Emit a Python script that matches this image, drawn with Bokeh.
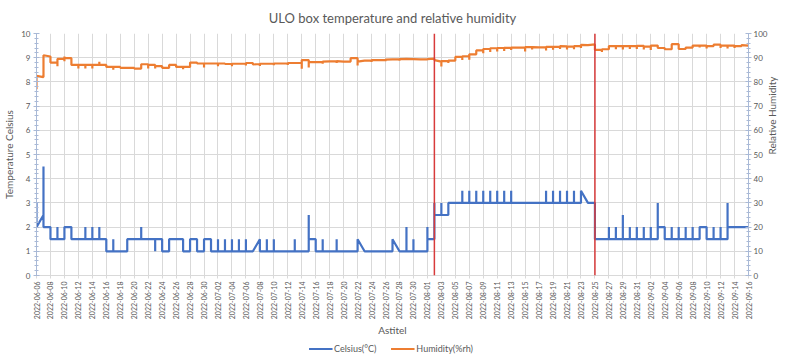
import math
import pandas as pd
from bokeh.plotting import figure
from bokeh.layouts import column
from bokeh.models import Range1d, LinearAxis, FixedTicker, Span, Legend, LegendItem
from bokeh.embed import file_html
from bokeh.resources import INLINE

# ---------------- data ----------------
start_date = "2022-06-06"
end_date = "2022-09-16"
event_dates = ["2022-08-02", "2022-08-25"]

# day offset from start_date and the readings logged on that day (in order)
celsius_day = [0, 1, 2, 3, 4, 5, 7, 8, 9, 10, 11, 13, 15, 17, 18, 19, 21, 22, 23, 24, 25,
               26, 27, 28, 29, 30, 31, 32, 33, 34, 37, 39, 40, 41, 43, 46, 47, 51, 52,
               53, 54, 56, 57, 58, 59, 61, 62, 63, 64, 65, 66, 67, 68,
               73, 74, 75, 76, 77, 78, 79, 80, 82, 83, 84, 85, 86, 87, 88, 89, 90,
               91, 92, 93, 94, 95, 96, 97, 98, 99, 102]
celsius_val = [[3, 2], [2.5, 4.5, 2], [2, 1.5], [1.5, 2, 1.5], [1.5, 2], [2, 1.5],
               [1.5, 2, 1.5], [1.5, 2, 1.5], [1.5, 2, 1.5], [1.5, 1], [1, 1.5, 1], [1, 1.5],
               [1.5, 2, 1.5], [1.5, 1, 1.5], [1.5, 1], [1, 1.5], [1.5, 1], [1, 1.5], [1.5, 1],
               [1, 1.5], [1.5, 1],
               [1, 1.5, 1], [1, 1.5, 1], [1, 1.5, 1], [1, 1.5, 1], [1, 1.5, 1], [1], [1.5, 1],
               [1, 1.5, 1], [1, 1.5, 1], [1, 1.5, 1], [1, 2.5, 1.5], [1.5, 1], [1, 1.5, 1],
               [1, 1.5, 1], [1, 1.5], [1], [1, 1.5], [1],
               [1, 2, 1], [1, 1.5, 1], [1, 2, 1.5], [1.5, 3, 2.5], [2.5, 3, 2.5], [2.5, 3],
               [3, 3.5, 3], [3, 3.5, 3], [3, 3.5, 3], [3, 3.5, 3], [3, 3.5, 3], [3, 3.5, 3],
               [3, 3.5, 3], [3, 3.5, 3],
               [3, 3.5, 3], [3, 3.5, 3], [3, 3.5, 3], [3, 3.5, 3], [3, 3.5, 3], [3, 3.5], [3],
               [3, 1.5], [1.5, 2, 1.5], [1.5, 2, 1.5], [1.5, 2.5, 1.5], [1.5, 2, 1.5],
               [1.5, 2, 1.5], [1.5, 2, 1.5], [1.5, 2, 1.5], [1.5, 3, 2], [2, 1.5],
               [1.5, 2, 1.5], [1.5, 2, 1.5], [1.5, 2, 1.5], [1.5, 2, 1.5], [1.5, 2], [2, 1.5],
               [1.5, 2, 1.5], [1.5, 2, 1.5], [1.5, 3, 2], [2]]

humidity_day = list(range(0, 103))
humidity_val = [[77, 82.5], [82, 91], [90.5, 88], [88, 86.5, 89.5], [89.5, 90.5, 88.5, 89.8],
                [89.8, 87], [87, 85.5, 87], [87, 85.5, 87], [87, 85.5, 87], [87, 88.3, 87],
                [87, 86.2], [86.2, 85, 86.2], [86.2, 85.8], [85.8], [85.8, 85.5],
                [85.5, 87.3], [87.3, 85.5, 87], [87, 85.5, 86.5], [86.5, 85.8], [85.8, 87],
                [87, 86.2], [86.2, 85.2, 86.2], [86.2, 88], [88, 87.6], [87.6, 86, 87.6],
                [87.6], [87.6, 86.5, 87.6], [87.6, 87.4], [87.4, 86.5, 87.5], [87.5],
                [87.5, 86.8, 87.8], [87.8, 87.2], [87.4, 86.6, 87.5], [87.5], [87.5, 86.9, 87.6],
                [87.6], [87.7, 87, 87.8], [87.8], [87.8, 85.4, 89], [89, 86, 88.2],
                [88.2], [88.3, 87.5, 88.4], [88.5], [88.5, 87.8, 88.6], [88.4],
                [88.4, 89.8], [89.8, 86.8, 88.4], [88.8], [88.9, 88.2, 89], [89],
                [89.1, 88.5, 89.2], [89.3], [89.3, 88.7, 89.4], [89.5], [89.4, 88.9, 89.4],
                [89.3], [89.3, 89.8, 89.4], [89.6, 89], [88.4, 86.4, 88.6], [88.6, 87.8, 88.8],
                [88.8, 90.3], [90.3, 89, 90.6], [90.6, 89.2, 91.4], [91.4, 93], [93, 91.8, 93.6],
                [93.6, 92.4, 93.9], [93.9, 92.6, 94], [94, 92.8, 94.1], [94.1, 93.2, 94.2], [94.2],
                [94.2, 92.6, 94.4], [94.4, 93.4, 94.4], [94.3], [94.3, 93, 94.5], [94.5, 93.3, 94.5],
                [94.5, 93.6, 94.8], [94.7, 93.4, 94.6], [94.6, 93.5, 94.8], [94.8, 94, 95.3], [95.2],
                [95.5, 93.2], [93.2, 92.4, 93.5], [93.5, 94.8], [94.8, 93.5, 94.8], [94.8, 93.4, 94.8],
                [94.8, 93.6, 94.8], [94.8, 93.6, 94.9], [94.9, 93.4, 94.6], [94.6, 93.2, 95], [95, 94],
                [94, 93.5], [93.5, 95.6], [95.6, 93.6], [93.6, 94.2], [94.2, 95],
                [95, 94.2, 95], [95, 93.8, 94.8], [94.8, 95.4], [95.4, 94, 95], [95, 93.8, 95],
                [95, 94, 94.8], [94.8, 95.2], [95, 94.8]]


def flatten(days, vals):
    xs, ys = [], []
    for d, vs in zip(days, vals):
        for v in vs:
            xs.append(d)
            ys.append(v)
    return xs, ys


cx, cy = flatten(celsius_day, celsius_val)
hx, hy = flatten(humidity_day, humidity_val)

# ---------------- derived positions ----------------
t0 = pd.Timestamp(start_date)
n_days = (pd.Timestamp(end_date) - t0).days
tick_dates = pd.date_range(start_date, end_date, freq="2D")
tick_pos = [(d - t0).days for d in tick_dates]
tick_labels = {p: d.strftime("%Y-%m-%d") for p, d in zip(tick_pos, tick_dates)}
event_pos = [(pd.Timestamp(d) - t0).days for d in event_dates]

FONT = "Lato"
GREY = "#595959"
GRID = "#D9D9D9"
AXC = "#A9B9D6"
BLUE = "#4472C4"
ORANGE = "#ED7D31"
RED = "#D83B3B"

p = figure(frame_width=712, frame_height=242, output_backend="svg", toolbar_location=None,
           x_range=Range1d(0, n_days), y_range=Range1d(0, 10),
           title="ULO box temperature and relative humidity",
           min_border_left=33, min_border_right=36, min_border_top=25, min_border_bottom=10)
p.extra_y_ranges = {"hum": Range1d(0, 100)}
p.outline_line_color = None
p.background_fill_color = "white"
p.border_fill_color = "white"

p.title.align = "center"
p.title.text_font = FONT
p.title.text_font_size = "13px"
p.title.text_font_style = "normal"
p.title.text_color = GREY
p.title.standoff = 15

xa = p.xaxis[0]
xa.ticker = FixedTicker(ticks=tick_pos)
xa.major_label_overrides = tick_labels
xa.major_label_orientation = math.pi / 2
xa.axis_label = "Astitel"
ya = p.yaxis[0]
ya.ticker = FixedTicker(ticks=list(range(0, 11)), minor_ticks=[i / 5 for i in range(0, 51)])
ya.axis_label = "Temperature Celsius"
ra = LinearAxis(y_range_name="hum", axis_label="Relative Humidity",
                ticker=FixedTicker(ticks=list(range(0, 101, 10)), minor_ticks=list(range(0, 101, 2))))
p.add_layout(ra, "right")
if "axis_label_orientation" in ra.properties():
    ra.axis_label_orientation = math.pi / 2

for ax in (xa, ya, ra):
    ax.major_label_text_font = FONT
    ax.major_label_text_font_size = "8px"
    ax.major_label_text_color = GREY
    ax.axis_label_text_font = FONT
    ax.axis_label_text_font_size = "10px"
    ax.axis_label_text_font_style = "normal"
    ax.axis_label_text_color = GREY
    ax.axis_label_standoff = 3
    ax.major_label_standoff = 3
for ax in (ya, ra):
    ax.axis_line_color = AXC
    ax.major_tick_line_color = AXC
    ax.minor_tick_line_color = AXC
    ax.major_tick_in = 3
    ax.major_tick_out = 3
    ax.minor_tick_in = 2
    ax.minor_tick_out = 2
ra.axis_label_standoff = 2
ra.major_label_standoff = 2
xa.major_label_text_font_size = "7px"
xa.major_label_standoff = 3
xa.axis_line_color = GRID
xa.major_tick_line_color = GRID
xa.major_tick_in = 0
xa.major_tick_out = 3
xa.minor_tick_line_color = None
xa.axis_label_standoff = 2

p.xgrid.ticker = FixedTicker(ticks=tick_pos)
p.xgrid.grid_line_color = GRID
p.ygrid.grid_line_color = GRID

for e in event_pos:
    p.add_layout(Span(location=e, dimension="height", line_color=RED, line_width=1.5))

r_c = p.line(cx, cy, line_color=BLUE, line_width=2.2)
r_h = p.line(hx, hy, line_color=ORANGE, line_width=2.2, y_range_name="hum")

# ---------------- legend strip below the chart ----------------
lg = figure(width=784, height=18, output_backend="svg", toolbar_location=None,
            x_range=Range1d(0, 1), y_range=Range1d(0, 1),
            min_border_left=0, min_border_right=0, min_border_top=0, min_border_bottom=0)
lg.axis.visible = False
lg.grid.visible = False
lg.outline_line_color = None
l_c = lg.line([-5, -4], [-5, -4], line_color=BLUE, line_width=2.2)
l_h = lg.line([-5, -4], [-5, -4], line_color=ORANGE, line_width=2.2)
legend = Legend(items=[LegendItem(label="Celsius(°C)", renderers=[l_c]),
                       LegendItem(label="Humidity(%rh)", renderers=[l_h])],
                orientation="horizontal", location="center")
legend.label_text_font = FONT
legend.label_text_font_size = "9px"
legend.label_text_color = GREY
legend.glyph_width = 24
legend.glyph_height = 10
legend.spacing = 14
legend.padding = 2
legend.margin = 0
legend.label_standoff = 2
legend.border_line_color = None
legend.background_fill_alpha = 0
lg.add_layout(legend)

layout = column(p, lg, spacing=0)
open("out.html", "w").write(file_html(layout, INLINE))
